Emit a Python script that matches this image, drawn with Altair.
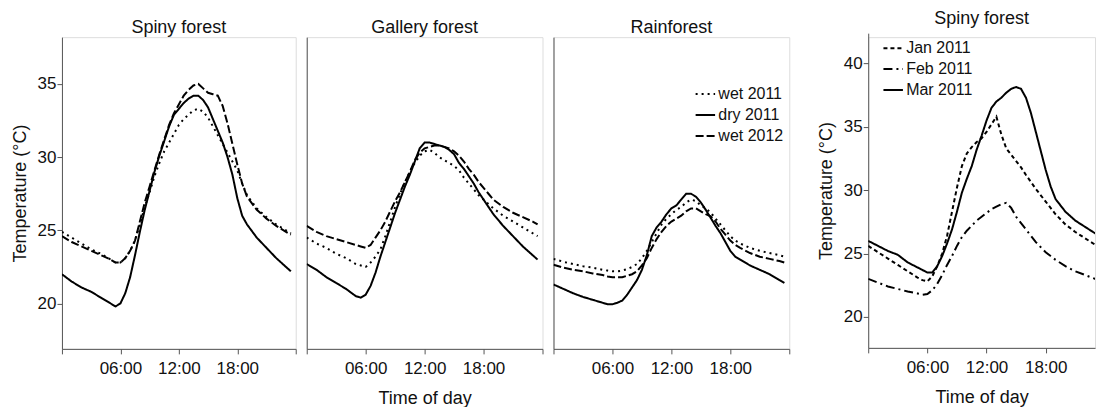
import altair as alt
import pandas as pd

# Time of day (hours) shared by every series
hours = [0, 1, 2, 3, 4, 5, 5.5, 6, 6.5, 7, 7.5, 8, 8.5, 9, 9.5, 10, 10.5, 11, 11.5,
         12, 12.5, 13, 13.5, 14, 14.5, 15, 15.5, 16, 16.5, 17, 17.5, 18, 18.5, 19,
         20, 21, 22, 23, 23.5]

# Spiny forest, seasonal means (°C)
spiny_wet_2011 = [24.9, 24.5, 24.1, 23.7, 23.4, 23.0, 22.8, 22.8, 23.1, 23.6, 24.3, 25.4, 26.6, 27.6, 28.7,
                  29.6, 30.4, 31.0, 31.6, 32.2, 32.6, 32.9, 33.2, 33.3, 33.1, 32.7, 32.1, 31.5, 30.9, 30.3,
                  29.7, 29.1, 28.2, 27.4, 26.5, 25.9, 25.4, 25.0, 24.8]
spiny_dry_2011 = [22.0, 21.5, 21.1, 20.8, 20.4, 20.0, 19.8, 20.0, 20.7, 21.8, 23.3, 24.9, 26.4, 27.7, 29.0,
                  30.1, 31.1, 32.1, 32.9, 33.3, 33.7, 34.0, 34.2, 34.2, 33.9, 33.4, 32.6, 31.8, 31.0, 30.0,
                  28.8, 27.2, 26.0, 25.4, 24.5, 23.8, 23.1, 22.5, 22.2]
spiny_wet_2012 = [24.6, 24.2, 23.9, 23.6, 23.3, 23.0, 22.8, 22.8, 23.1, 23.6, 24.3, 25.6, 26.9, 28.0, 29.1,
                  30.2, 31.2, 32.2, 33.0, 33.6, 34.2, 34.6, 34.9, 35.0, 34.7, 34.4, 34.3, 34.2, 33.5, 32.3,
                  30.9, 29.5, 28.2, 27.3, 26.4, 25.8, 25.3, 24.9, 24.7]

# Gallery forest
gallery_wet_2011 = [24.5, 24.1, 23.8, 23.4, 23.1, 22.7, 22.6, 22.5, 22.8, 23.2, 23.7, 24.6, 25.6, 26.6, 27.5,
                    28.3, 29.0, 29.6, 30.1, 30.4, 30.5, 30.3, 30.0, 29.8, 29.6, 29.4, 29.1, 28.6, 28.2, 27.8,
                    27.4, 27.1, 26.8, 26.5, 26.0, 25.6, 25.2, 24.8, 24.6]
gallery_dry_2011 = [22.7, 22.3, 21.8, 21.4, 21.0, 20.5, 20.4, 20.6, 21.2, 22.1, 23.2, 24.2, 25.2, 26.2, 27.1,
                    28.0, 28.8, 29.7, 30.6, 31.0, 31.0, 30.9, 30.8, 30.7, 30.5, 30.2, 29.6, 29.2, 28.7, 28.2,
                    27.6, 27.1, 26.6, 26.1, 25.3, 24.6, 23.9, 23.3, 23.0]
gallery_wet_2012 = [25.3, 24.9, 24.6, 24.4, 24.2, 24.0, 23.9, 23.8, 24.0, 24.5, 25.0, 25.6, 26.3, 27.0, 27.6,
                    28.3, 29.0, 29.8, 30.3, 30.6, 30.7, 30.8, 30.8, 30.7, 30.6, 30.4, 30.1, 29.7, 29.2, 28.8,
                    28.3, 27.9, 27.5, 27.1, 26.6, 26.2, 25.9, 25.6, 25.4]

# Rainforest
rain_wet_2011 = [23.05, 22.85, 22.7, 22.55, 22.45, 22.3, 22.25, 22.2, 22.2, 22.25, 22.35, 22.5, 22.7, 23.1,
                 23.6, 24.2, 24.8, 25.4, 25.8, 26.1, 26.4, 26.6, 26.9, 27.1, 27.0, 26.7, 26.5, 26.2, 25.8,
                 25.4, 25.0, 24.6, 24.3, 24.1, 23.8, 23.6, 23.45, 23.3, 23.2]
rain_dry_2011 = [21.3, 21.0, 20.7, 20.45, 20.25, 20.05, 19.95, 19.95, 20.05, 20.2, 20.6, 21.1, 21.6, 22.3,
                 23.3, 24.6, 25.2, 25.6, 26.1, 26.5, 26.7, 27.1, 27.5, 27.5, 27.3, 26.9, 26.4, 25.85, 25.3,
                 24.8, 24.2, 23.6, 23.2, 23.0, 22.6, 22.3, 22.0, 21.6, 21.4]
rain_wet_2012 = [22.65, 22.45, 22.3, 22.2, 22.05, 21.95, 21.85, 21.8, 21.8, 21.8, 21.9, 22.0, 22.2, 22.6,
                 23.1, 23.8, 24.4, 24.9, 25.3, 25.6, 25.8, 26.0, 26.3, 26.5, 26.5, 26.3, 26.1, 25.95, 25.6,
                 25.1, 24.7, 24.3, 24.0, 23.8, 23.45, 23.2, 23.05, 22.9, 22.8]

# Spiny forest, monthly means
spiny_jan_2011 = [25.6, 25.1, 24.6, 24.1, 23.6, 23.1, 22.9, 22.8, 23.2, 24.0, 25.0, 26.4, 28.3, 30.2, 31.9,
                  32.9, 33.4, 33.8, 34.1, 34.6, 35.2, 35.8, 34.4, 33.3, 32.8, 32.3, 31.8, 31.2, 30.65, 30.1,
                  29.6, 29.1, 28.6, 28.1, 27.3, 26.7, 26.2, 25.7, 25.5]
spiny_feb_2011 = [23.0, 22.7, 22.4, 22.2, 22.0, 21.85, 21.75, 21.8, 22.1, 22.6, 23.3, 24.1, 24.8, 25.6, 26.3,
                  26.8, 27.2, 27.6, 27.9, 28.2, 28.5, 28.7, 28.9, 29.0, 28.6, 27.9, 27.4, 26.9, 26.4, 25.9,
                  25.5, 25.1, 24.8, 24.5, 24.0, 23.6, 23.3, 23.0, 22.9]
spiny_mar_2011 = [26.0, 25.6, 25.2, 24.9, 24.3, 23.9, 23.7, 23.5, 23.5, 24.0, 24.8, 25.8, 26.9, 28.3, 29.8,
                  30.9, 31.9, 33.2, 34.3, 35.5, 36.5, 37.0, 37.3, 37.7, 38.0, 38.15, 38.0, 37.3, 36.1, 34.6,
                  33.1, 31.6, 30.3, 29.3, 28.3, 27.6, 27.1, 26.6, 26.3]

season_names = ["wet 2011", "dry 2011", "wet 2012"]
season_dashes = [[2, 4], [1, 0], [8, 3]]
month_names = ["Jan 2011", "Feb 2011", "Mar 2011"]
month_dashes = [[4, 3], [9, 4, 2, 4], [1, 0]]

tick_hours = [0, 6, 12, 18, 24]
tick_text = ["", "06:00", "12:00", "18:00", ""]

FONT = "Liberation Sans"
AXIS_GREY = "#555555"
INK = "#111111"


def long_table(series, names):
    rows = []
    for name, values in zip(names, series):
        for h, t in zip(hours, values):
            rows.append({"hour": h, "temp": t, "group": name})
    return pd.DataFrame(rows)


label_expr = "{}[indexof({}, datum.value)]".format(
    "[" + ",".join("'%s'" % s for s in tick_text) + "]",
    "[" + ",".join(str(v) for v in tick_hours) + "]",
)


def x_axis(title, values):
    return alt.Axis(
        title=title, values=values, labelExpr=label_expr, grid=False,
        domainColor=AXIS_GREY, tickColor=AXIS_GREY, tickSize=5, labelPadding=7,
        labelFont=FONT, labelFontSize=17, labelColor=INK,
        titleFont=FONT, titleFontSize=18, titleFontWeight="normal", titleColor=INK,
        titlePadding=13,
    )


def y_axis(show, values):
    if show:
        return alt.Axis(
            title="Temperature (°C)", values=values, grid=False,
            domainColor=AXIS_GREY, tickColor=AXIS_GREY, tickSize=5, labelPadding=1,
            labelFont=FONT, labelFontSize=17, labelColor=INK,
            titleFont=FONT, titleFontSize=18, titleFontWeight="normal", titleColor=INK,
            titlePadding=8,
        )
    return alt.Axis(title=None, labels=False, ticks=False, grid=False, domainColor=AXIS_GREY)


def panel(df, title, names, dashes, show_y, legend, xtitle, ydomain, yvalues,
          width, height, xmax, xticks, title_offset, yrange=None):
    yscale = alt.Scale(domain=ydomain, nice=False, zero=False)
    if yrange is not None:
        yscale = alt.Scale(domain=ydomain, nice=False, zero=False, range=yrange)
    return (
        alt.Chart(df)
        .mark_line(color="black", strokeWidth=2, clip=True)
        .encode(
            x=alt.X("hour:Q", scale=alt.Scale(domain=[0, xmax], nice=False),
                    axis=x_axis(xtitle, xticks)),
            y=alt.Y("temp:Q", scale=yscale, axis=y_axis(show_y, yvalues)),
            strokeDash=alt.StrokeDash(
                "group:N",
                scale=alt.Scale(domain=names, range=dashes),
                sort=names,
                legend=legend,
            ),
            detail="group:N",
        )
        .properties(
            width=width, height=height,
            title=alt.TitleParams(title, font=FONT, fontSize=18, fontWeight="normal",
                                  color=INK, anchor="middle", offset=title_offset),
        )
    )


def make_legend(x, y):
    return alt.Legend(
        title=None, orient="none", legendX=x, legendY=y, symbolType="stroke",
        symbolSize=380, symbolStrokeWidth=2, symbolStrokeColor="black",
        labelFont=FONT, labelFontSize=16, labelColor=INK, rowPadding=2, labelOffset=2,
    )


season_series = {
    "Spiny forest": [spiny_wet_2011, spiny_dry_2011, spiny_wet_2012],
    "Gallery forest": [gallery_wet_2011, gallery_dry_2011, gallery_wet_2012],
    "Rainforest": [rain_wet_2011, rain_dry_2011, rain_wet_2012],
}

season_dom = [16.9, 38.2]
p1 = panel(long_table(season_series["Spiny forest"], season_names), "Spiny forest",
           season_names, season_dashes, True, None, None, season_dom, [20, 25, 30, 35],
           234, 312, 24, tick_hours, 0)
p2 = panel(long_table(season_series["Gallery forest"], season_names), "Gallery forest",
           season_names, season_dashes, False, None, "Time of day", season_dom, [20, 25, 30, 35],
           236, 312, 24, tick_hours, 0)
p3 = panel(long_table(season_series["Rainforest"], season_names), "Rainforest",
           season_names, season_dashes, False, make_legend(141, 46), None, season_dom,
           [20, 25, 30, 35], 236, 312, 24, tick_hours, 0)

p4 = panel(long_table([spiny_jan_2011, spiny_feb_2011, spiny_mar_2011], month_names),
           "Spiny forest", month_names, month_dashes, True, make_legend(14, 0), "Time of day",
           [17.55, 42.4], [20, 25, 30, 35, 40], 227, 311, 23, [0, 6, 12, 18], 9,
           yrange=[311, -4])

seasons = alt.hconcat(p1, p2, p3, spacing=9).resolve_scale(strokeDash="independent")
chart = (
    alt.hconcat(seasons, p4, spacing=26)
    .resolve_scale(strokeDash="independent")
    .properties(padding={"left": 10, "top": 9, "right": 0, "bottom": 0})
    .configure_view(stroke=None)
    .configure(background="white")
)

chart.save("out.html", embed_options={"renderer": "svg", "actions": False})
